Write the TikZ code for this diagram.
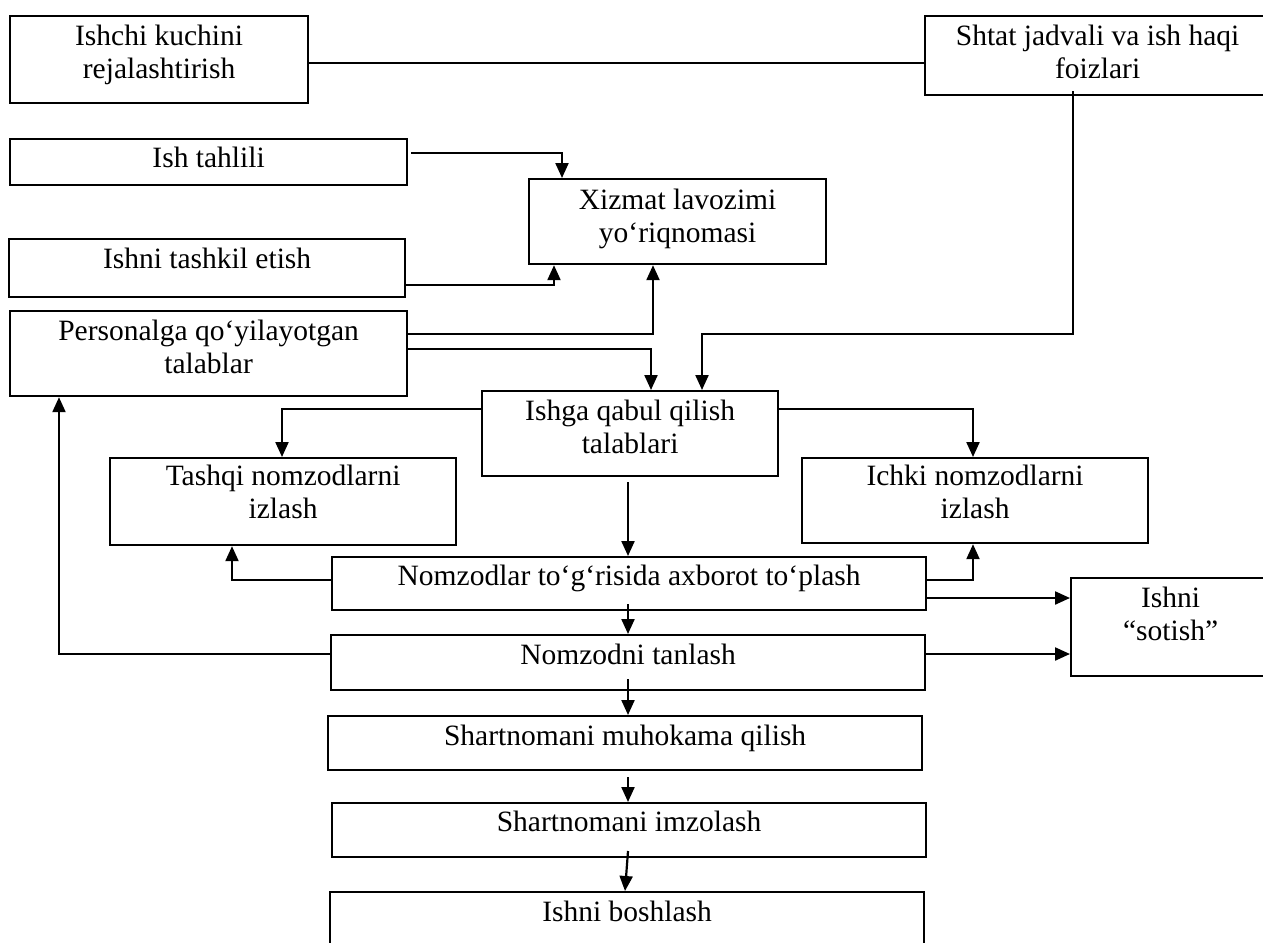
\documentclass[tikz,border=0pt]{standalone}
\usepackage{fontspec}
\setmainfont{Liberation Serif}
\usetikzlibrary{arrows.meta,calc}
\begin{document}
\begin{tikzpicture}[x=1pt,y=-1pt,
  font={\fontsize{29.5pt}{33.3pt}\selectfont},
  box/.style={draw,line width=2.2pt,rectangle,anchor=north west,inner sep=0pt},
  lbl/.style={anchor=north,align=center,inner sep=0pt},
  conn/.style={line width=2.2pt},
  arr/.style={line width=2.2pt,-{Triangle[length=15pt,width=13pt]}}]
\useasboundingbox (0,0) rectangle (1263,942);
% boxes
\node[box,minimum width=298pt,minimum height=87pt] (A) at (9,15) {};
\node[box,minimum width=341pt,minimum height=79pt] (B) at (924,15) {};
\node[box,minimum width=397pt,minimum height=46pt] (T1) at (9,138) {};
\node[box,minimum width=297pt,minimum height=85pt] (X) at (528,178) {};
\node[box,minimum width=396pt,minimum height=58pt] (T2) at (8,238) {};
\node[box,minimum width=397pt,minimum height=85pt] (P) at (9,310) {};
\node[box,minimum width=296pt,minimum height=85pt] (Q) at (481,390) {};
\node[box,minimum width=346pt,minimum height=87pt] (E) at (109,457) {};
\node[box,minimum width=346pt,minimum height=85pt] (I) at (801,457) {};
\node[box,minimum width=594pt,minimum height=53pt] (N) at (331,556) {};
\node[box,minimum width=195pt,minimum height=98pt] (S) at (1070,577) {};
\node[box,minimum width=594pt,minimum height=55pt] (C) at (330,634) {};
\node[box,minimum width=594pt,minimum height=54pt] (M) at (327,715) {};
\node[box,minimum width=594pt,minimum height=54pt] (K) at (331,802) {};
\node[box,minimum width=594pt,minimum height=80pt] (F) at (329,891) {};
% labels
\node[lbl] (At) at ([yshift=-10pt]A.north) {Ishchi kuchini\\rejalashtirish};
\node[lbl] (Bt) at ([yshift=-10pt,xshift=2pt]B.north) {Shtat jadvali va ish haqi\\foizlari};
\node[lbl] (T1t) at ([yshift=-9pt]T1.north) {Ish tahlili};
\node[lbl] (Xt) at ([yshift=-11pt]X.north) {Xizmat lavozimi\\yo‘riqnomasi};
\node[lbl] (T2t) at ([yshift=-10pt]T2.north) {Ishni tashkil etish};
\node[lbl] (Pt) at ([yshift=-10pt]P.north) {Personalga qo‘yilayotgan\\talablar};
\node[lbl] (Qt) at ([yshift=-10pt]Q.north) {Ishga qabul qilish\\talablari};
\node[lbl] (Et) at ([yshift=-8pt]E.north) {Tashqi nomzodlarni\\izlash};
\node[lbl] (It) at ([yshift=-8pt]I.north) {Ichki nomzodlarni\\izlash};
\node[lbl] (Nt) at ([yshift=-9pt]N.north) {Nomzodlar to‘g‘risida axborot to‘plash};
\node[lbl] (St) at ([yshift=-10pt,xshift=2pt]S.north) {Ishni\\“sotish”};
\node[lbl] (Ct) at ([yshift=-10pt]C.north) {Nomzodni tanlash};
\node[lbl] (Mt) at ([yshift=-10pt]M.north) {Shartnomani muhokama qilish};
\node[lbl] (Kt) at ([yshift=-9pt]K.north) {Shartnomani imzolash};
\node[lbl] (Ft) at ([yshift=-10pt]F.north) {Ishni boshlash};
% helper coordinates
\coordinate (h63) at (0,63);
\coordinate (c1) at (562,153);
\coordinate (c2) at (554,285);
\coordinate (c3) at (653,334);
\coordinate (c4) at (651,349);
\coordinate (c5) at (1073,334);
\coordinate (c6) at (702,334);
\coordinate (c7) at (282,409);
\coordinate (c8) at (973,409);
\coordinate (c9) at (628,482);
\coordinate (c10) at (232,580);
\coordinate (c11) at (973,580);
\coordinate (c12) at (927,598);
\coordinate (c13) at (628,604);
\coordinate (c14) at (59,654);
\coordinate (c15) at (628,679);
\coordinate (c16) at (628,777);
\coordinate (c17) at (628,851);
\coordinate (c18) at (625,0);
% connectors
\draw[conn] (A.east |- h63) -- (B.west |- h63);
\draw[arr] ([xshift=3pt]T1.east |- c1) -- (c1) -- (c1 |- X.north);
\draw[arr] (T2.east |- c2) -- (c2) -- (c2 |- X.south);
\draw[arr] (P.east |- c3) -- (c3) -- (c3 |- X.south);
\draw[arr] (P.east |- c4) -- (c4) -- (c4 |- Q.north);
\draw[arr] ([yshift=5pt]c5 |- B.south) -- (c5) -- (c6) -- (c6 |- Q.north);
\draw[arr] (Q.west |- c7) -- (c7) -- (c7 |- E.north);
\draw[arr] (Q.east |- c8) -- (c8) -- (c8 |- I.north);
\draw[arr] (c9) -- (c9 |- N.north);
\draw[arr] (N.west |- c10) -- (c10) -- (c10 |- E.south);
\draw[arr] (N.east |- c11) -- (c11) -- (c11 |- I.south);
\draw[arr] (c12) -- (c12 -| S.west);
\draw[arr] (c13) -- (c13 |- C.north);
\draw[arr] (C.west |- c14) -- (c14) -- (c14 |- P.south);
\draw[arr] (C.east |- c14) -- (S.west |- c14);
\draw[arr] (c15) -- (c15 |- M.north);
\draw[arr] (c16) -- (c16 |- K.north);
\draw[arr] (c17) -- (c18 |- F.north);
\end{tikzpicture}
\end{document}
